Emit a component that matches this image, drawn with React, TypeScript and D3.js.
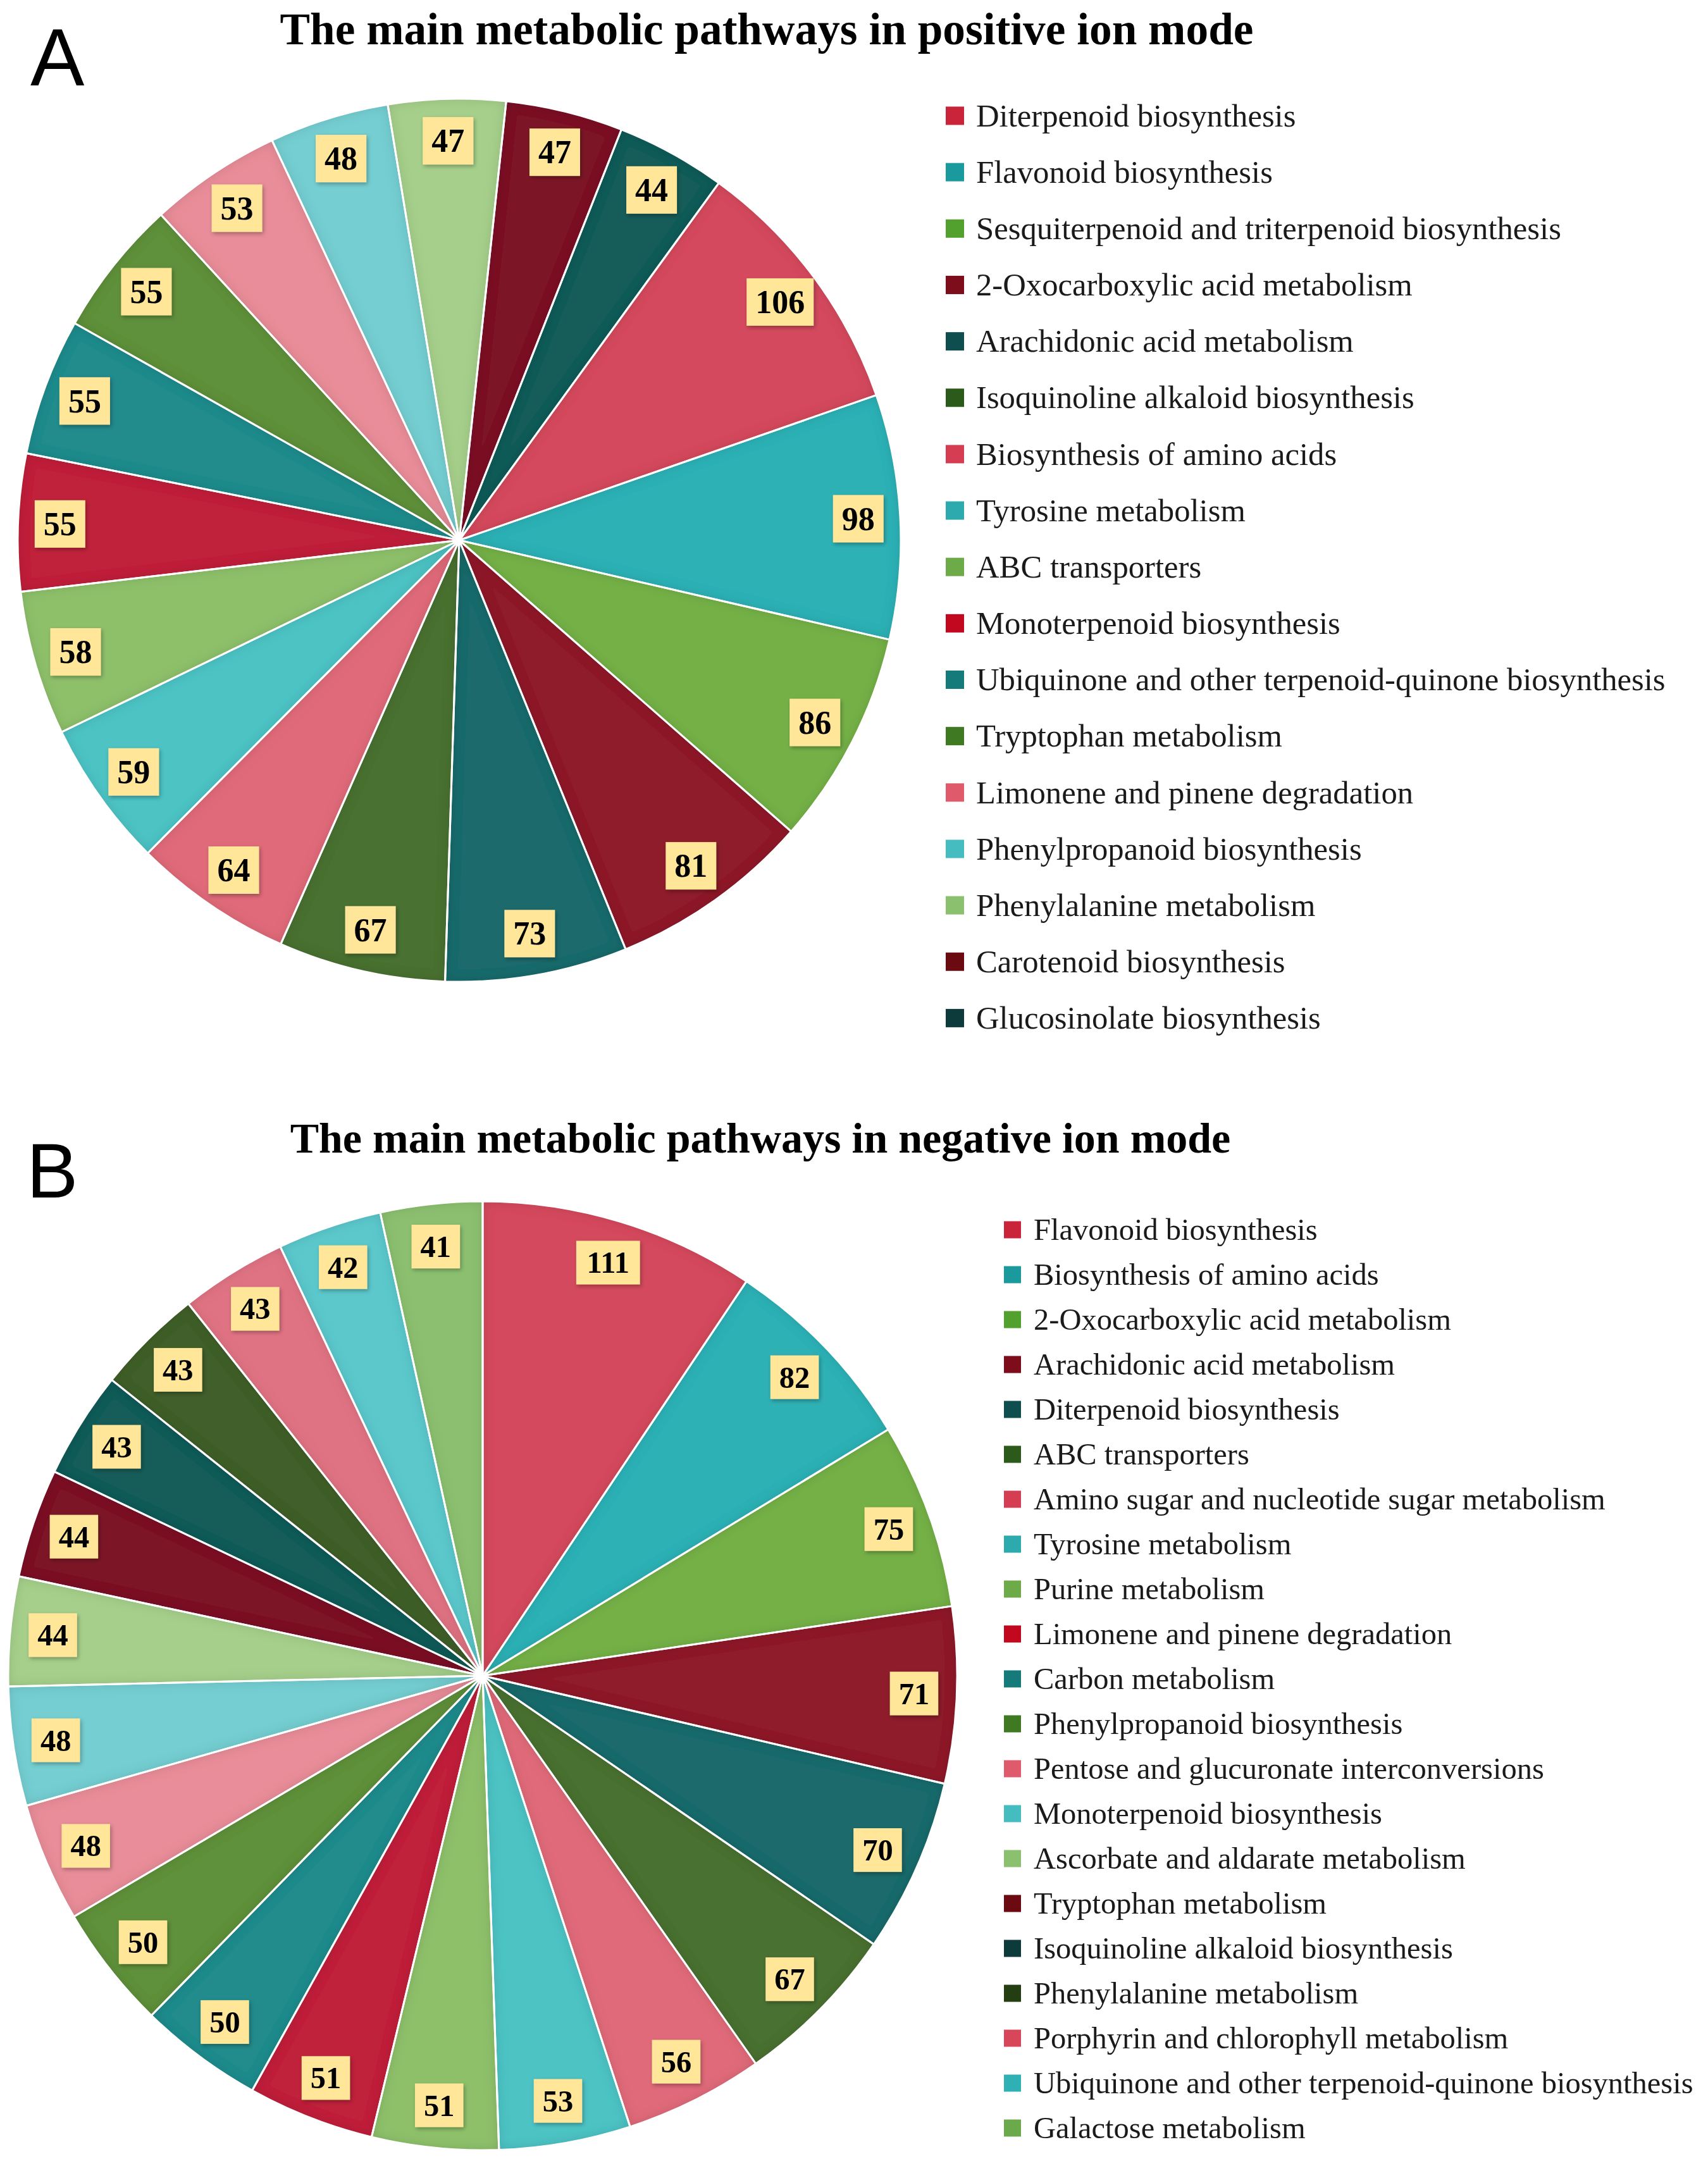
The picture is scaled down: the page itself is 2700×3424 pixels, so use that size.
import React from 'react';
import * as d3 from 'd3';

const W = 2700;
const H = 3424;

const titleA = 'The main metabolic pathways in positive ion mode';
const titleB = 'The main metabolic pathways in negative ion mode';

const namesA = [
  'Diterpenoid biosynthesis',
  'Flavonoid biosynthesis',
  'Sesquiterpenoid and triterpenoid biosynthesis',
  '2-Oxocarboxylic acid metabolism',
  'Arachidonic acid metabolism',
  'Isoquinoline alkaloid biosynthesis',
  'Biosynthesis of amino acids',
  'Tyrosine metabolism',
  'ABC transporters',
  'Monoterpenoid biosynthesis',
  'Ubiquinone and other terpenoid-quinone biosynthesis',
  'Tryptophan metabolism',
  'Limonene and pinene degradation',
  'Phenylpropanoid biosynthesis',
  'Phenylalanine metabolism',
  'Carotenoid biosynthesis',
  'Glucosinolate biosynthesis',
];
const valuesA = [106, 98, 86, 81, 73, 67, 64, 59, 58, 55, 55, 55, 53, 48, 47, 47, 44];

const namesB = [
  'Flavonoid biosynthesis',
  'Biosynthesis of amino acids',
  '2-Oxocarboxylic acid metabolism',
  'Arachidonic acid metabolism',
  'Diterpenoid biosynthesis',
  'ABC transporters',
  'Amino sugar and nucleotide sugar metabolism',
  'Tyrosine metabolism',
  'Purine metabolism',
  'Limonene and pinene degradation',
  'Carbon metabolism',
  'Phenylpropanoid biosynthesis',
  'Pentose and glucuronate interconversions',
  'Monoterpenoid biosynthesis',
  'Ascorbate and aldarate metabolism',
  'Tryptophan metabolism',
  'Isoquinoline alkaloid biosynthesis',
  'Phenylalanine metabolism',
  'Porphyrin and chlorophyll metabolism',
  'Ubiquinone and other terpenoid-quinone biosynthesis',
  'Galactose metabolism',
];
const valuesB = [111, 82, 75, 71, 70, 67, 56, 53, 51, 51, 50, 50, 48, 48, 44, 44, 43, 43, 43, 42, 41];

const sliceColors = [
  '#D4495D', '#2FB1B5', '#74B046', '#8E1B2B', '#1F6B6C', '#4A7131', '#E06A79',
  '#4EC3C4', '#8EC06B', '#C0223A', '#248B8C', '#5F903A', '#E88D99', '#74CED1',
  '#A6CF8B', '#7B1727', '#165B59', '#3F5F2A', '#E07383', '#5CC8CC', '#8CC070',
];
const legendColors = [
  '#C9243A', '#1B9A9E', '#52A02E', '#7D0D1A', '#0E4E4E', '#2B5A1B', '#D43D52',
  '#2CAAAE', '#6DAA48', '#C2081E', '#147A7A', '#3F7A22', '#DF5A6A', '#45BCC0',
  '#8BC06E', '#6C0A12', '#0D3B3B', '#233F12', '#D8465A', '#2FB0B5', '#6AAA4A',
];

type Cfg = {
  id: string;
  letter: string;
  letterX: number;
  letterY: number;
  letterFs: number;
  title: string;
  titleX: number;
  titleY: number;
  titleFs: number;
  cx: number;
  cy: number;
  r: number;
  startDeg: number;
  labelFs: number;
  boxH: number;
  labelR: number;
  sqX: number;
  sq: number;
  textX: number;
  legY0: number;
  legStep: number;
  legFs: number;
};

const cfgA: Cfg = {
  id: 'A', letter: 'A', letterX: 48, letterY: 135, letterFs: 128,
  title: titleA, titleX: 1212, titleY: 70, titleFs: 71.3,
  cx: 726, cy: 854, r: 698, startDeg: 36, labelFs: 52, boxH: 75, labelR: 0.905,
  sqX: 1495, sq: 29, textX: 1543, legY0: 183, legStep: 89.15, legFs: 50.7,
};
const cfgB: Cfg = {
  id: 'B', letter: 'B', letterX: 42, letterY: 1893, letterFs: 122,
  title: titleB, titleX: 1202, titleY: 1822, titleFs: 68,
  cx: 763, cy: 2649, r: 750, startDeg: 0, labelFs: 48.5, boxH: 69, labelR: 0.91,
  sqX: 1587, sq: 27, textX: 1634, legY0: 1944, legStep: 71.0, legFs: 48.5,
};

const SERIF = '"Liberation Serif", "Times New Roman", serif';
const SANS = '"Liberation Sans", Arial, sans-serif';

function Panel({ cfg, names, values }: { cfg: Cfg; names: string[]; values: number[] }) {
  const start = (cfg.startDeg * Math.PI) / 180;
  const pie = d3
    .pie<number>()
    .sort(null)
    .value((d) => d)
    .startAngle(start)
    .endAngle(start + 2 * Math.PI);
  const arcs = pie(values);
  const arc = d3.arc<d3.PieArcDatum<number>>().innerRadius(0).outerRadius(cfg.r);
  const lr = cfg.r * cfg.labelR;
  const labelArc = d3.arc<d3.PieArcDatum<number>>().innerRadius(lr).outerRadius(lr);
  const color = d3.scaleOrdinal<number, string>().domain(d3.range(values.length)).range(sliceColors);
  const lcolor = d3.scaleOrdinal<number, string>().domain(d3.range(values.length)).range(legendColors);
  const legY = d3.scaleLinear().domain([0, 1]).range([cfg.legY0, cfg.legY0 + cfg.legStep]);

  return (
    <g>
      <text x={cfg.letterX} y={cfg.letterY} fontFamily={SANS} fontSize={cfg.letterFs} fill="#000">
        {cfg.letter}
      </text>
      <text
        x={cfg.titleX}
        y={cfg.titleY}
        textAnchor="middle"
        fontFamily={SERIF}
        fontWeight="bold"
        fontSize={cfg.titleFs}
        fill="#000"
      >
        {cfg.title}
      </text>
      <g transform={`translate(${cfg.cx},${cfg.cy})`}>
        {arcs.map((a, i) => (
          <path key={'s' + i} d={arc(a) || ''} fill={color(i)} filter="url(#innerShadow)" />
        ))}
        {arcs.map((a, i) => (
          <path key={'o' + i} d={arc(a) || ''} fill="none" stroke="#fff" strokeWidth={3} strokeLinejoin="round" />
        ))}
        {arcs.map((a, i) => {
          const [x, y] = labelArc.centroid(a);
          const txt = String(values[i]);
          const tw = txt.length * 0.5 * cfg.labelFs;
          const bw = tw + 28;
          return (
            <g key={'l' + i} transform={`translate(${x},${y})`}>
              <rect
                x={-bw / 2}
                y={-cfg.boxH / 2}
                width={bw}
                height={cfg.boxH}
                fill="#FFE699"
                filter="url(#boxShadow)"
              />
              <text
                x={0}
                y={cfg.labelFs * 0.34}
                textAnchor="middle"
                fontFamily={SERIF}
                fontWeight="bold"
                fontSize={cfg.labelFs}
                fill="#000"
              >
                {txt}
              </text>
            </g>
          );
        })}
      </g>
      <g>
        {names.map((n, i) => {
          const cy = legY(i);
          return (
            <g key={'g' + i}>
              <rect x={cfg.sqX} y={cy - cfg.sq / 2} width={cfg.sq} height={cfg.sq} fill={lcolor(i)} />
              <text x={cfg.textX} y={cy + cfg.legFs * 0.33} fontFamily={SERIF} fontSize={cfg.legFs} fill="#1a1a1a">
                {n}
              </text>
            </g>
          );
        })}
      </g>
    </g>
  );
}

export default function App() {
  return (
    <svg
      width={W}
      height={H}
      viewBox={`0 0 ${W} ${H}`}
      style={{ position: 'absolute', left: 0, top: 0, background: '#fff' }}
    >
      <defs>
        <filter id="innerShadow" x="-20%" y="-20%" width="140%" height="140%">
          <feFlood floodColor="#000" floodOpacity="0.28" result="flood" />
          <feComposite in="flood" in2="SourceAlpha" operator="out" result="outside" />
          <feGaussianBlur in="outside" stdDeviation="9" result="blur" />
          <feComposite in="blur" in2="SourceAlpha" operator="in" result="inner" />
          <feMerge>
            <feMergeNode in="SourceGraphic" />
            <feMergeNode in="inner" />
          </feMerge>
        </filter>
        <filter id="boxShadow" x="-30%" y="-30%" width="160%" height="160%">
          <feDropShadow dx="2" dy="3" stdDeviation="3" floodColor="#000" floodOpacity="0.3" />
        </filter>
      </defs>
      <rect x={0} y={0} width={W} height={H} fill="#fff" />
      <Panel cfg={cfgA} names={namesA} values={valuesA} />
      <Panel cfg={cfgB} names={namesB} values={valuesB} />
    </svg>
  );
}
